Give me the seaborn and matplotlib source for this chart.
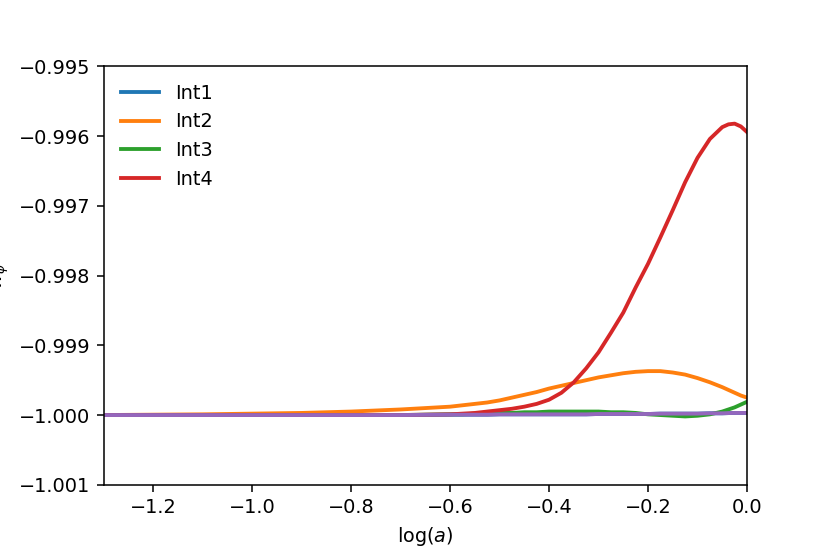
import numpy as np
import pandas as pd
import matplotlib
matplotlib.use("Agg")
import matplotlib.pyplot as plt
import seaborn as sns

# log(a) grid
log_a = [-1.3, -1.2, -1.1, -1.0, -0.9, -0.8, -0.7, -0.6, -0.575, -0.55, -0.525,
         -0.5, -0.475, -0.45, -0.425, -0.4, -0.375, -0.35, -0.325, -0.3, -0.275,
         -0.25, -0.225, -0.2, -0.175, -0.15, -0.125, -0.1, -0.075, -0.05, -0.0375,
         -0.025, -0.0125, 0.0]

# w_phi for each integration
int1 = [-1.0, -1.0, -1.0, -1.0, -1.0, -1.0, -1.0, -0.999995, -0.999995, -0.999995, -0.999995,
        -0.99999, -0.99999, -0.99999, -0.99999, -0.99999, -0.99999, -0.99999, -0.99999, -0.999985, -0.999985,
        -0.999985, -0.999985, -0.999985, -0.99998, -0.99998, -0.99998, -0.99998, -0.999975, -0.999975, -0.999972,
        -0.99997, -0.99997, -0.99997]

int2 = [-1.0, -0.999995, -0.99999, -0.99998, -0.99997, -0.99995, -0.99992, -0.99988, -0.99986, -0.99984, -0.99982,
        -0.99979, -0.99975, -0.99971, -0.99967, -0.99962, -0.99958, -0.99954, -0.9995, -0.99946, -0.99943,
        -0.9994, -0.99938, -0.99937, -0.99937, -0.99939, -0.99942, -0.99947, -0.99953, -0.9996, -0.99964,
        -0.99968, -0.99972, -0.99975]

int3 = [-1.0, -1.0, -1.0, -1.0, -1.0, -1.0, -1.0, -0.99999, -0.99999, -0.99998, -0.99998,
        -0.99997, -0.99997, -0.99996, -0.99996, -0.99995, -0.99995, -0.99995, -0.99995, -0.99995, -0.99996,
        -0.99996, -0.99997, -0.99999, -1.0, -1.00001, -1.00002, -1.00001, -0.99999, -0.99995, -0.99992,
        -0.99989, -0.99985, -0.99981]

int4 = [-1.0, -1.0, -1.0, -1.0, -1.0, -1.0, -1.0, -0.99999, -0.99998, -0.99997, -0.99995,
        -0.99993, -0.99991, -0.99988, -0.99984, -0.99978, -0.99968, -0.99953, -0.99933, -0.9991, -0.99882,
        -0.99853, -0.99817, -0.99783, -0.99745, -0.99706, -0.99666, -0.99631, -0.99604, -0.99587, -0.99583,
        -0.99582, -0.99586, -0.99594]

# unlabelled reference curve drawn on top
extra = [-1.0, -1.0, -1.0, -1.0, -1.0, -1.0, -1.0, -0.999995, -0.999995, -0.999995, -0.999995,
         -0.99999, -0.99999, -0.99999, -0.99999, -0.99999, -0.99999, -0.99999, -0.99999, -0.999985, -0.999985,
         -0.999985, -0.999985, -0.999985, -0.99998, -0.99998, -0.99998, -0.99998, -0.999975, -0.999975, -0.999972,
         -0.99997, -0.99997, -0.99997]

labels = ["Int1", "Int2", "Int3", "Int4"]
colors = ["#1f77b4", "#ff7f0e", "#2ca02c", "#d62728"]

dpi = 138.4
fig, ax = plt.subplots(figsize=(830 / dpi, 554 / dpi), dpi=dpi)
fig.subplots_adjust(left=0.125, right=0.9, top=0.88, bottom=0.125)

for series, lab, col in zip([int1, int2, int3, int4], labels, colors):
    df = pd.DataFrame({"log_a": log_a, "w": series})
    sns.lineplot(data=df, x="log_a", y="w", color=col, lw=2, label=lab, ax=ax)

df = pd.DataFrame({"log_a": log_a, "w": extra})
sns.lineplot(data=df, x="log_a", y="w", color="#9467bd", lw=2, ax=ax)

ax.set_xlim(-1.3, 0.0)
ax.set_ylim(-1.001, -0.995)
ax.ticklabel_format(axis="y", useOffset=False)
ax.set_xlabel(r"log($a$)")
ax.set_ylabel(r"$w_\phi$")
ax.legend(loc="upper left", frameon=False)

fig.savefig("out.png", dpi=dpi)
